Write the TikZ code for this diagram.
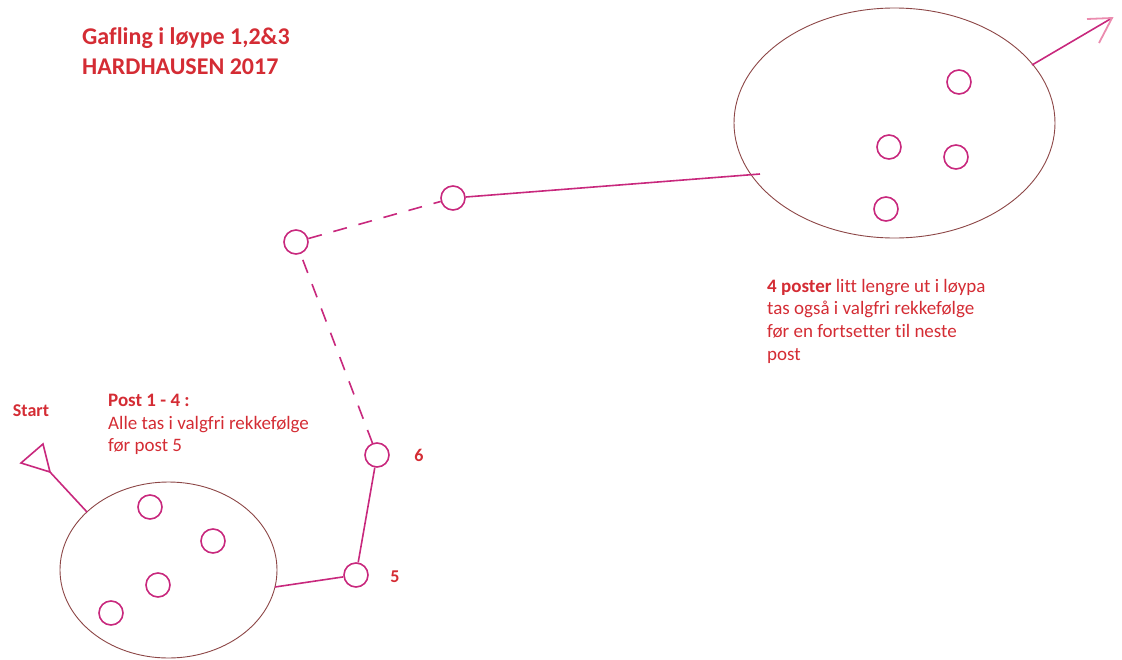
\documentclass[tikz,border=0pt]{standalone}
\usepackage{fontspec}
\setmainfont{Carlito}[Ligatures=NoCommon]
\usetikzlibrary{arrows.meta}
\definecolor{txtred}{RGB}{212,44,52}
\definecolor{lnpink}{RGB}{200,40,125}
\definecolor{elbrown}{RGB}{140,70,70}
\definecolor{arrpink}{RGB}{235,140,175}
\tikzset{
  post/.style={circle,draw=lnpink,line width=1.6pt,minimum size=24pt,inner sep=0pt},
  area/.style={ellipse,draw=elbrown,line width=0.9pt,inner sep=0pt},
  leg/.style={draw=lnpink,line width=1.6pt},
  dleg/.style={leg,dash pattern=on 14pt off 12pt},
  lbl/.style={text=txtred,font=\bfseries\fontsize{18}{20}\selectfont,inner sep=0pt},
  body/.style={text=txtred,font=\fontsize{19}{22.6}\selectfont,align=left,inner sep=0pt,anchor=north west},
}
\usetikzlibrary{shapes.geometric}
\begin{document}
\begin{tikzpicture}[x=1pt,y=-1pt]
\useasboundingbox (0,0) rectangle (1122,659);
% title
\node[text=txtred,font=\bfseries\fontsize{24}{30}\selectfont,align=left,anchor=north west,inner sep=0pt] (title) at (82,27) {Gafling i løype 1,2\&3\\HARDHAUSEN 2017};
% right area
\node[area,minimum width=321pt,minimum height=230pt] (areaB) at (894.5,123) {};
\node[post] (b1) at (959,82) {};
\node[post] (b2) at (889,147) {};
\node[post] (b3) at (956,157) {};
\node[post] (b4) at (886,209) {};
\coordinate (bin) at (760,174);
\coordinate (bout) at (1032,65);
\coordinate (btip) at (1112,18);
\draw[leg] (bout) -- (btip);
\draw[draw=arrpink,line width=1.8pt] (1087,19) -- (btip) -- (1099,43);
% left area
\node[area,minimum width=217pt,minimum height=176pt] (areaA) at (168.5,570) {};
\node[post] (a1) at (150,507) {};
\node[post] (a2) at (213,541) {};
\node[post] (a3) at (158,585) {};
\node[post] (a4) at (111,613) {};
% start
\coordinate (s1) at (21,463);
\coordinate (s2) at (43,444);
\coordinate (s3) at (50,472);
\draw[leg,line join=miter] (s1) -- (s2) -- (s3) -- cycle;
\coordinate (sout) at (87,512);
\draw[leg] (s3) -- (sout);
\node[text=txtred,font=\bfseries\fontsize{18}{20}\selectfont,inner sep=0pt,anchor=base] (start) at (31,416) {Start};
% posts
\node[post] (p5) at (356,575) {};
\node[post] (p6) at (377,455) {};
\node[post] (p7) at (296,242) {};
\node[post] (p8) at (453,198) {};
\coordinate (ain) at (275,587);
\node[lbl] (l5) at (395,577) {5};
\node[lbl] (l6) at (419,455) {6};
\draw[leg] (p5) -- (ain);
\draw[leg] (p5) -- (p6);
\draw[dleg] (p6) -- (p7);
\draw[dleg] (p7) -- (p8);
\draw[leg] (p8) -- (bin);
% texts
\node[body] (t1) at (108,394) {\textbf{Post 1 - 4 :}\\Alle tas i valgfri rekkefølge\\før post 5};
\node[body] (t2) at (767,279) {\textbf{4 poster} litt lengre ut i løypa\\tas også i valgfri rekkefølge\\før en fortsetter til neste\\post};
\end{tikzpicture}
\end{document}
